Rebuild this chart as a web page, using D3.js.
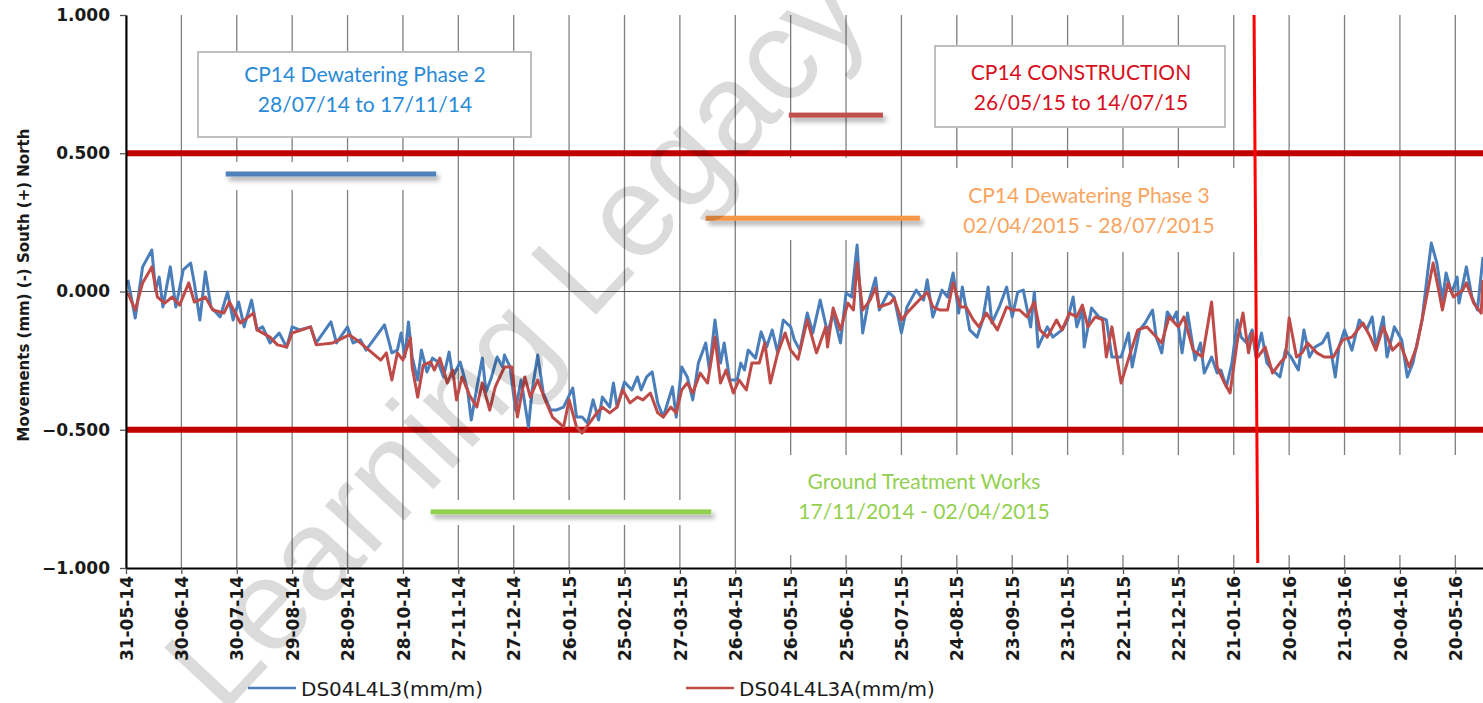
<!DOCTYPE html>
<html><head><meta charset="utf-8">
<script src="https://cdn.jsdelivr.net/npm/d3@7"></script>
<style>body{margin:0;background:#fff;} svg{display:block}</style>
</head><body><svg id="c" width="1483" height="703"></svg>
<script>
const startDate = "2014-05-31";
const xTickLabels = ["31-05-14","30-06-14","30-07-14","29-08-14","28-09-14","28-10-14","27-11-14","27-12-14","26-01-15","25-02-15","27-03-15","26-04-15","26-05-15","25-06-15","25-07-15","24-08-15","23-09-15","23-10-15","22-11-15","22-12-15","21-01-16","20-02-16","21-03-16","20-04-16","20-05-16"];
const yTicks = [1, 0.5, 0, -0.5, -1];
const seriesNames = ["DS04L4L3(mm/m)", "DS04L4L3A(mm/m)"];
const seriesColors = ["#4a7ebb", "#be4b48"];
// [days since startDate, value]
const blueSeries = [[1,.042],[5,-.096],[9,.089],[14,.150],[16,.005],[18,.052],[20,-.056],[24,.089],[27,-.056],[31,.078],[35,.103],[37,.031],[40,-.103],[43,.071],[46,-.056],[51,-.092],[55,-.002],[58,-.103],[61,-.038],[64,-.128],[68,-.031],[71,-.139],[74,-.128],[78,-.186],[83,-.150],[87,-.201],[90,-.128],[94,-.139],[100,-.128],[103,-.186],[111,-.110],[114,-.186],[120,-.128],[123,-.186],[127,-.175],[130,-.212],[140,-.121],[144,-.222],[147,-.212],[149,-.150],[151,-.237],[153,-.110],[155,-.237],[158,-.320],[160,-.212],[163,-.291],[166,-.241],[169,-.255],[172,-.309],[175,-.219],[177,-.309],[181,-.255],[185,-.356],[187,-.465],[190,-.349],[193,-.241],[195,-.363],[198,-.309],[201,-.237],[204,-.273],[205,-.230],[208,-.273],[211,-.429],[214,-.320],[218,-.490],[220,-.356],[223,-.230],[226,-.367],[230,-.429],[233,-.429],[237,-.418],[242,-.349],[244,-.454],[247,-.454],[250,-.476],[253,-.392],[256,-.465],[258,-.382],[262,-.418],[264,-.331],[266,-.418],[270,-.327],[274,-.356],[277,-.309],[279,-.356],[282,-.309],[285,-.291],[288,-.403],[291,-.454],[296,-.345],[298,-.454],[301,-.273],[304,-.309],[307,-.392],[310,-.259],[314,-.186],[316,-.284],[319,-.103],[322,-.259],[324,-.186],[327,-.320],[331,-.320],[333,-.259],[335,-.284],[337,-.212],[341,-.241],[344,-.146],[347,-.201],[350,-.139],[353,-.222],[356,-.103],[360,-.128],[362,-.175],[365,-.212],[369,-.078],[372,-.150],[376,-.031],[380,-.150],[383,-.078],[387,-.186],[390,-.005],[393,-.020],[396,.168],[399,-.150],[402,-.042],[406,.049],[408,-.067],[413,-.002],[416,-.020],[420,-.150],[423,-.056],[428,.005],[432,-.031],[434,.042],[437,-.092],[442,.005],[445,-.020],[448,.067],[451,-.078],[453,.016],[457,-.139],[461,-.165],[464,-.103],[467,.016],[469,-.114],[473,-.056],[477,.016],[480,-.092],[483,-.002],[486,.005],[490,-.128],[492,-.002],[494,-.201],[499,-.128],[502,-.165],[507,-.139],[510,-.103],[513,-.020],[515,-.128],[518,-.067],[519,-.201],[523,-.060],[527,-.092],[531,-.103],[534,-.237],[539,-.237],[543,-.150],[545,-.273],[549,-.139],[552,-.114],[556,-.067],[558,-.165],[561,-.222],[564,-.074],[567,-.103],[569,-.074],[572,-.222],[575,-.078],[579,-.248],[582,-.186],[584,-.295],[588,-.237],[591,-.295],[593,-.284],[596,-.345],[599,-.259],[602,-.103],[604,-.165],[607,-.186],[610,-.139],[612,-.237],[615,-.150],[618,-.259],[621,-.284],[625,-.309],[628,-.212],[631,-.237],[635,-.284],[638,-.139],[641,-.237],[644,-.201],[648,-.186],[651,-.150],[655,-.309],[657,-.201],[660,-.139],[664,-.212],[668,-.103],[672,-.139],[675,-.092],[677,-.201],[681,-.092],[683,-.237],[687,-.128],[691,-.175],[694,-.309],[697,-.259],[702,-.103],[705,.067],[707,.175],[710,.103],[713,-.031],[715,.067],[718,-.005],[721,.052],[722,-.042],[726,.089],[729,-.020],[732,-.067],[735,.125]];
const redSeries = [[1,-.005],[5,-.067],[9,.031],[14,.089],[17,-.020],[21,-.042],[25,-.020],[29,-.049],[34,.031],[37,-.038],[43,-.020],[47,-.067],[53,-.078],[56,-.038],[62,-.114],[69,-.078],[71,-.139],[78,-.165],[82,-.193],[87,-.201],[90,-.150],[100,-.128],[103,-.193],[112,-.186],[121,-.157],[125,-.175],[138,-.248],[141,-.222],[144,-.320],[147,-.222],[150,-.248],[154,-.168],[155,-.273],[158,-.382],[161,-.266],[165,-.255],[167,-.284],[170,-.241],[174,-.331],[177,-.284],[179,-.392],[182,-.309],[186,-.374],[190,-.418],[193,-.331],[197,-.429],[200,-.345],[205,-.273],[209,-.273],[212,-.454],[216,-.309],[219,-.382],[223,-.320],[227,-.392],[231,-.454],[237,-.490],[240,-.392],[244,-.490],[247,-.512],[251,-.476],[255,-.439],[258,-.418],[262,-.439],[266,-.418],[269,-.356],[273,-.403],[277,-.382],[280,-.392],[284,-.367],[288,-.439],[291,-.454],[295,-.418],[298,-.439],[301,-.356],[304,-.331],[307,-.367],[311,-.295],[315,-.331],[319,-.165],[322,-.331],[325,-.284],[329,-.367],[332,-.320],[336,-.356],[339,-.259],[343,-.259],[346,-.186],[349,-.331],[353,-.222],[357,-.150],[360,-.212],[364,-.245],[369,-.103],[374,-.222],[379,-.128],[380,-.201],[383,-.060],[387,-.139],[391,-.042],[394,-.067],[396,.103],[399,-.067],[403,-.031],[406,.013],[408,-.056],[414,-.042],[416,-.024],[420,-.103],[423,-.078],[428,-.042],[434,-.002],[437,-.056],[441,-.067],[445,-.067],[448,.031],[452,-.056],[455,-.056],[459,-.103],[462,-.128],[466,-.078],[472,-.139],[477,-.056],[480,-.067],[484,-.067],[488,-.092],[492,-.038],[495,-.139],[499,-.165],[504,-.103],[507,-.139],[511,-.078],[515,-.092],[518,-.049],[521,-.128],[525,-.092],[529,-.103],[531,-.237],[534,-.128],[539,-.331],[544,-.222],[548,-.139],[553,-.128],[556,-.150],[561,-.186],[565,-.092],[570,-.128],[573,-.092],[578,-.212],[583,-.237],[588,-.038],[591,-.273],[595,-.331],[598,-.367],[602,-.175],[605,-.078],[608,-.222],[610,-.150],[613,-.237],[617,-.201],[621,-.295],[625,-.259],[628,-.237],[630,-.096],[634,-.237],[637,-.222],[640,-.186],[645,-.222],[649,-.237],[654,-.237],[659,-.175],[664,-.165],[670,-.114],[674,-.165],[677,-.212],[681,-.128],[686,-.212],[690,-.186],[695,-.273],[699,-.201],[702,-.103],[708,.103],[711,.005],[713,-.067],[716,.031],[719,-.020],[724,.005],[726,.031],[730,-.042],[734,-.078],[735,.042]];
const limitValues = [0.5, -0.5];
const phaseBarNames = ["Phase 2", "Construction", "Phase 3", "Ground"];
const phaseBarStart = ["2014-07-24", "2015-05-25", "2015-04-10", "2014-11-12"];
const phaseBarEnd = ["2014-11-15", "2015-07-15", "2015-08-04", "2015-04-13"];
const phaseBarValue = [0.425, 0.638, 0.265, -0.797];
const phaseBarColor = ["#4f81bd", "#c0504d", "#f79646", "#92d050"];
const markerLineDates = ["2016-02-01", "2016-02-03"];
const markerLineValues = [1.0, -0.982];

const svg = d3.select("#c");
const W = 1483, H = 703;
const m = {left: 126, right: 0, top: 15, bottom: 135};
const parse = d3.utcParse("%Y-%m-%d");
const t0 = parse(startDate);
const dayDate = d => d3.utcDay.offset(t0, d);
const x = d3.scaleUtc().domain([t0, d3.utcDay.offset(t0, 735)]).range([m.left, W - m.right]);
const y = d3.scaleLinear().domain([-1, 1]).range([H - m.bottom, m.top]);
const tickDates = xTickLabels.map(d3.utcParse("%d-%m-%y"));

const font = "'DejaVu Sans', Verdana, sans-serif";
const noteFont = "Lato, 'Open Sans', sans-serif";

// vertical gridlines
svg.append("g").selectAll("line").data(tickDates).join("line")
  .attr("x1", d => x(d)).attr("x2", d => x(d))
  .attr("y1", y(1)).attr("y2", y(-1))
  .attr("stroke", "#7f7f7f").attr("stroke-width", 1.3);
// zero gridline
svg.append("line").attr("x1", x.range()[0]).attr("x2", x.range()[1])
  .attr("y1", y(0)).attr("y2", y(0)).attr("stroke", "#595959").attr("stroke-width", 1.2);

// white backgrounds of annotations (cover gridlines)
const notes = svg.append("g");
function box(x0, y0, w, h, border) {
  notes.append("rect").attr("x", x0).attr("y", y0).attr("width", w).attr("height", h)
    .attr("fill", "#fff").attr("stroke", border ? "#bfbfbf" : "none").attr("stroke-width", 2);
}
box(198, 52, 333, 85, true);
box(935, 46, 290, 81, true);
box(940, 168, 300, 84, false);
box(760, 455, 723, 100, false);
box(205, 162, 243, 28, false);
box(765, 158, 132, 82, false);
box(425, 500, 297, 25, false);

// phase bars with soft shadow
const defs = svg.append("defs");
const f = defs.append("filter").attr("id", "sh").attr("filterUnits", "userSpaceOnUse")
  .attr("x", 0).attr("y", 0).attr("width", W).attr("height", H);
f.append("feGaussianBlur").attr("in", "SourceAlpha").attr("stdDeviation", 2.5).attr("result", "b");
f.append("feOffset").attr("in", "b").attr("dx", 3).attr("dy", 4).attr("result", "o");
f.append("feComponentTransfer").attr("in", "o").attr("result", "o2").append("feFuncA").attr("type", "linear").attr("slope", 0.35);
const fm = f.append("feMerge"); fm.append("feMergeNode").attr("in", "o2"); fm.append("feMergeNode").attr("in", "SourceGraphic");

svg.append("g").selectAll("rect").data(phaseBarNames).join("rect")
  .attr("x", (d, i) => x(parse(phaseBarStart[i])))
  .attr("width", (d, i) => x(parse(phaseBarEnd[i])) - x(parse(phaseBarStart[i])))
  .attr("y", (d, i) => y(phaseBarValue[i]) - 2.5).attr("height", 5)
  .attr("fill", (d, i) => phaseBarColor[i]).attr("filter", "url(#sh)");

// limit lines
svg.append("g").selectAll("line").data(limitValues).join("line")
  .attr("x1", x.range()[0]).attr("x2", x.range()[1])
  .attr("y1", d => y(d)).attr("y2", d => y(d))
  .attr("stroke", "#c00000").attr("stroke-width", 6);

// series
const line = d3.line().x(d => x(dayDate(d[0]))).y(d => y(d[1]));
[blueSeries, redSeries].forEach((s, i) => {
  svg.append("path").datum(s).attr("d", line).attr("fill", "none")
    .attr("stroke", seriesColors[i]).attr("stroke-width", 3).attr("stroke-linejoin", "round");
});

// vertical marker line
svg.append("line")
  .attr("x1", x(parse(markerLineDates[0]))).attr("y1", y(markerLineValues[0]))
  .attr("x2", x(parse(markerLineDates[1]))).attr("y2", y(markerLineValues[1]))
  .attr("stroke", "#ff0000").attr("stroke-width", 3);

// axes
const xAxis = svg.append("g").attr("transform", `translate(0,${y(-1)})`)
  .call(d3.axisBottom(x).tickValues(tickDates).tickFormat(d3.utcFormat("%d-%m-%y")).tickSize(6).tickSizeOuter(0));
xAxis.select(".domain").attr("stroke", "#000").attr("stroke-width", 2);
xAxis.selectAll(".tick line").attr("stroke", "#555").attr("stroke-width", 1.3);
xAxis.selectAll("text").attr("transform", "rotate(-90)").attr("text-anchor", "end")
  .attr("x", -8).attr("y", 0).attr("dy", "0.36em")
  .style("font-family", font).style("font-size", "17px").style("font-weight", "bold").attr("fill", "#1a1a1a");

const yAxis = svg.append("g").attr("transform", `translate(${m.left},0)`)
  .call(d3.axisLeft(y).tickValues(yTicks).tickFormat(d3.format(".3f")).tickSize(6).tickPadding(10).tickSizeOuter(0));
yAxis.select(".domain").attr("stroke", "#000").attr("stroke-width", 2);
yAxis.selectAll(".tick line").attr("stroke", "#555").attr("stroke-width", 1.3);
yAxis.selectAll("text").style("font-family", font).style("font-size", "17px").style("font-weight", "bold").attr("fill", "#1a1a1a");

svg.append("text").attr("transform", `translate(24,285) rotate(-90)`)
  .attr("text-anchor", "middle").attr("dy", "0.35em").style("font-family", font).style("font-size", "15px").style("font-weight", "bold")
  .attr("fill", "#1a1a1a").text("Movements (mm) (-) South (+) North");

// annotation texts
function note(cx, cy, lines, color) {
  const t = svg.append("text").attr("text-anchor", "middle").style("font-family", noteFont).style("font-size", "21px").attr("fill", color);
  lines.forEach((l, i) => t.append("tspan").attr("x", cx).attr("y", cy + i * 29.5).text(l));
}
note(365, 82, ["CP14 Dewatering Phase 2", "28/07/14 to 17/11/14"], "#2a8ad6");
note(1081, 80, ["CP14 CONSTRUCTION", "26/05/15 to 14/07/15"], "#d80e1c");
note(1089, 203, ["CP14 Dewatering Phase 3", "02/04/2015 - 28/07/2015"], "#f9a45e");
note(924, 489, ["Ground Treatment Works", "17/11/2014 - 02/04/2015"], "#92d050");

// legend
const leg = svg.append("g");
const legX = [248, 686];
seriesNames.forEach((n, i) => {
  leg.append("line").attr("x1", legX[i]).attr("x2", legX[i] + 48).attr("y1", 688).attr("y2", 688)
    .attr("stroke", seriesColors[i]).attr("stroke-width", 2.6);
  leg.append("text").attr("x", legX[i] + 53).attr("y", 696).style("font-family", font).style("font-size", "20px")
    .attr("fill", "#1a1a1a").text(n);
});

// watermark
svg.append("text").attr("transform", "translate(222,716) rotate(-47)")
  .style("font-family", "'Liberation Sans', Arial, sans-serif").style("font-size", "129px")
  .attr("fill", "#000").attr("fill-opacity", 0.14).text("Learning Legacy");
</script></body></html>
